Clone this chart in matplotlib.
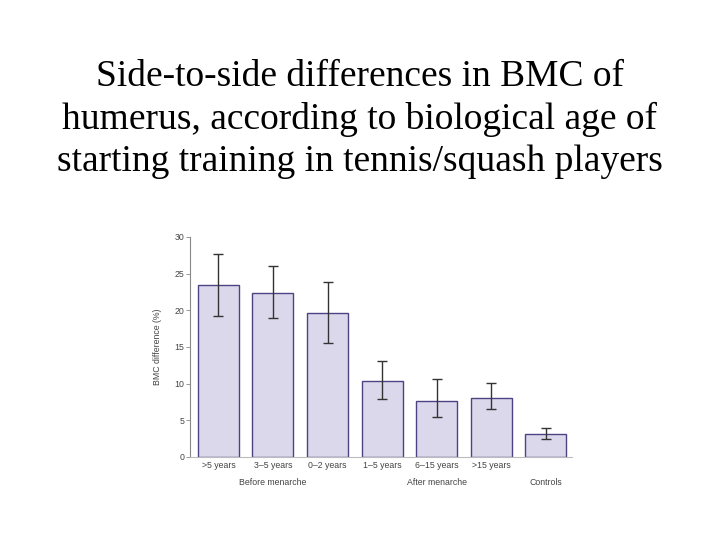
import matplotlib
matplotlib.use("Agg")
import matplotlib.pyplot as plt

title = "Side-to-side differences in BMC of\nhumerus, according to biological age of\nstarting training in tennis/squash players"
categories = [">5 years", "3\u20135 years", "0\u20132 years", "1\u20135 years", "6\u201315 years", ">15 years", ""]
values = [23.4, 22.4, 19.6, 10.4, 7.7, 8.0, 3.2]
err_low = [19.2, 18.9, 15.6, 7.9, 5.4, 6.6, 2.5]
err_high = [27.7, 26.1, 23.9, 13.1, 10.6, 10.1, 4.0]
groups = ["Before menarche", "After menarche", "Controls"]
group_pos = [1, 4, 6]
yticks = [0, 5, 10, 15, 20, 25, 30]

W, H = 720, 540
fig = plt.figure(figsize=(7.2, 5.4), dpi=100)
fig.patch.set_facecolor("white")

fig.text(360 / W, 1 - 59 / H, title, ha="center", va="top",
         fontfamily="Liberation Serif", fontsize=27, linespacing=1.3, color="black")

ax = fig.add_axes([190 / W, 1 - 457 / H, (572 - 190) / W, (457 - 237) / H])
x = list(range(len(values)))
lo = [v - l for v, l in zip(values, err_low)]
hi = [h - v for v, h in zip(values, err_high)]
ax.bar(x, values, width=0.75, color="#dcd8ec", edgecolor="#4b4382", linewidth=1.0, zorder=2)
ax.errorbar(x, values, yerr=[lo, hi], fmt="none", ecolor="#333333", elinewidth=1.0,
            capsize=3.8, capthick=1.0, zorder=3)
ax.set_xlim(-0.52, 6.48)
ax.set_ylim(0, 30)
ax.set_yticks(yticks)
ax.set_xticks(x)
ax.set_xticklabels(categories)
for s in ["top", "right"]:
    ax.spines[s].set_visible(False)
ax.spines["left"].set_color("#888888")
ax.spines["bottom"].set_color("#bbbbbb")
ax.spines["left"].set_linewidth(0.8)
ax.spines["bottom"].set_linewidth(0.8)
ax.tick_params(axis="y", length=3, width=0.6, color="#888888", labelsize=6.3,
               labelcolor="#444444", pad=1)
ax.tick_params(axis="x", length=0, labelsize=6.3, labelcolor="#444444", pad=3)
for lbl in ax.get_xticklabels() + ax.get_yticklabels():
    lbl.set_fontfamily("Liberation Sans")
ax.set_ylabel("BMC difference (%)", fontsize=6.3, color="#444444",
              fontfamily="Liberation Sans", labelpad=9)

for g, p in zip(groups, group_pos):
    ax.text(p, -0.095, g, transform=ax.get_xaxis_transform(), ha="center", va="top",
            fontsize=6.3, color="#444444", fontfamily="Liberation Sans")

fig.savefig("out.png", dpi=100)
